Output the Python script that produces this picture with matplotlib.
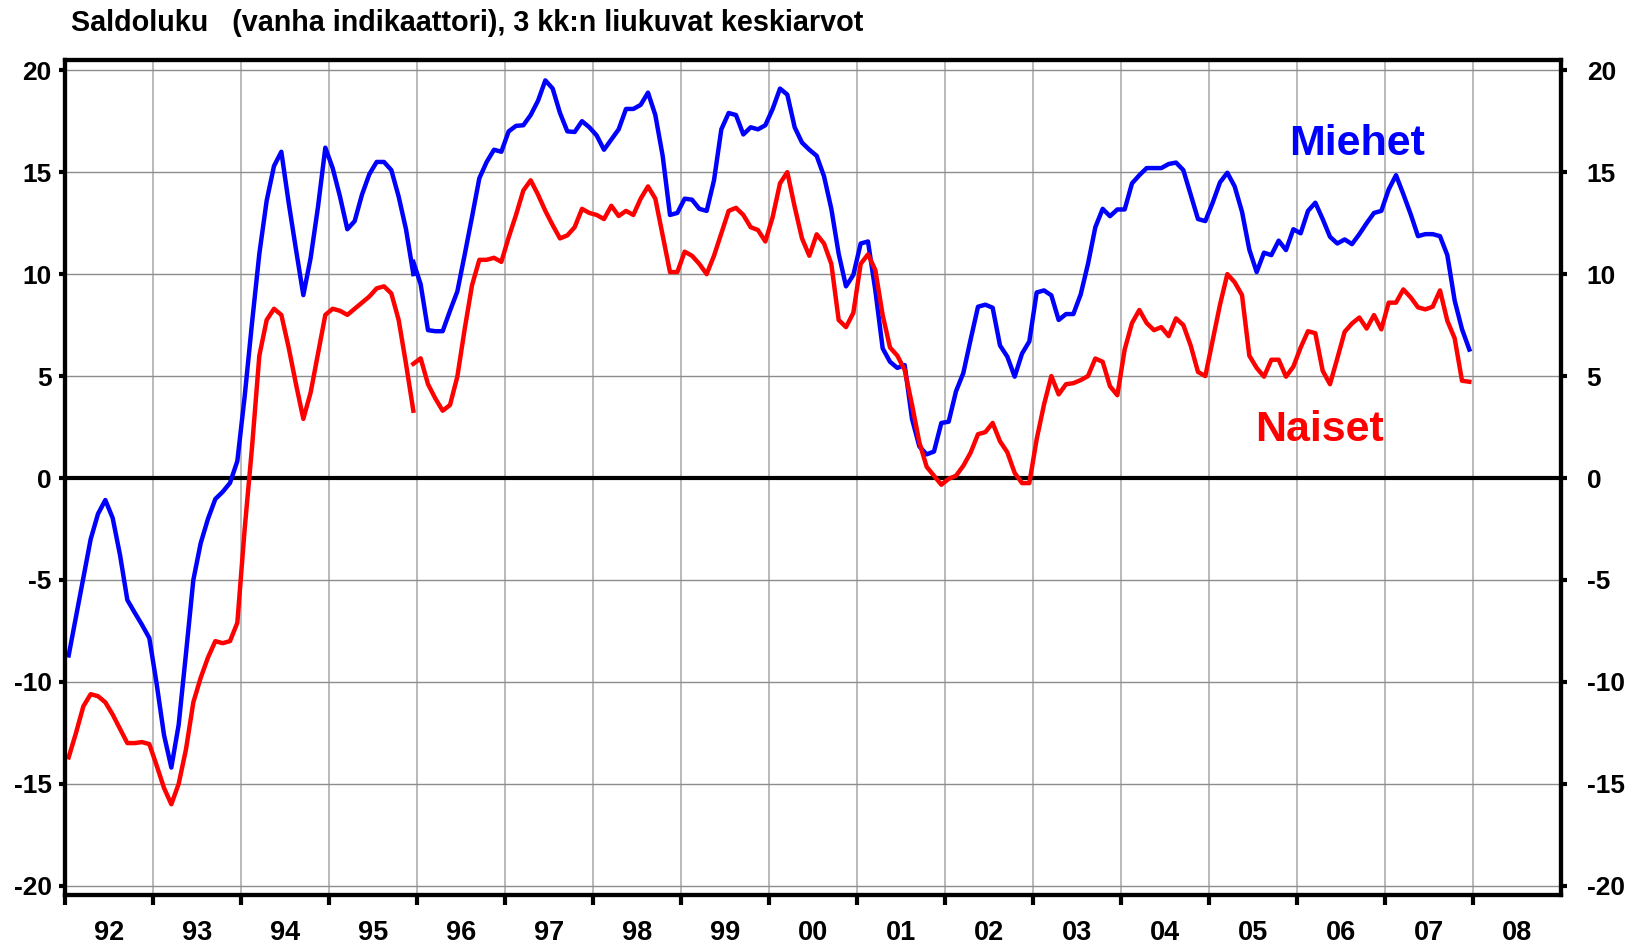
import numpy as np
import matplotlib
matplotlib.use("Agg")
import matplotlib.pyplot as plt
from matplotlib.ticker import FixedLocator, NullFormatter, FixedFormatter

plt.rcParams['font.family'] = ['Liberation Sans', 'DejaVu Sans']
plt.rcParams['axes.unicode_minus'] = False

# ---- data (monthly 3-month moving averages, first value = Jan 1992) ----
start_year = 1992
# old series Jan 1992 - Dec 1995
miehet_old = [-8.7, -6.8, -4.9, -3.0, -1.76, -1.08, -1.96, -3.77, -5.98, -6.6, -7.2, -7.85,
              -10.1, -12.6, -14.2, -12.1, -8.6, -5.0, -3.2, -2.0, -1.03, -0.68, -0.24, 0.83,
              4.0, 7.6, 11.0, 13.6, 15.3, 16.0, 13.5, 11.2, 8.97, 10.8, 13.3, 16.2,
              15.2, 13.8, 12.2, 12.6, 13.9, 14.9, 15.5, 15.5, 15.1, 13.8, 12.2, 10.0]
naiset_old = [-13.7, -12.5, -11.2, -10.6, -10.7, -11.0, -11.6, -12.3, -13.0, -13.0, -12.95, -13.05,
              -14.1, -15.2, -16.0, -15.0, -13.3, -11.0, -9.8, -8.8, -8.0, -8.1, -8.0, -7.1,
              -2.5, 1.5, 6.0, 7.75, 8.3, 8.0, 6.4, 4.6, 2.9, 4.2, 6.1, 8.0,
              8.3, 8.2, 8.0, 8.3, 8.6, 8.9, 9.3, 9.4, 9.05, 7.75, 5.6, 3.3]
# new series Dec 1995 - Dec 2007
new_start_index = 47
miehet_new = [10.6,
              9.5, 7.25, 7.2, 7.2, 8.2, 9.15, 10.95, 12.8, 14.7, 15.5, 16.1, 16.0,
              17.0, 17.27, 17.3, 17.8, 18.5, 19.5, 19.1, 17.9, 17.0, 16.97, 17.5, 17.2,
              16.8, 16.1, 16.6, 17.1, 18.1, 18.1, 18.3, 18.9, 17.8, 15.8, 12.9, 13.0,
              13.7, 13.65, 13.2, 13.1, 14.6, 17.1, 17.9, 17.8, 16.85, 17.2, 17.1, 17.3,
              18.1, 19.1, 18.8, 17.2, 16.45, 16.1, 15.8, 14.8, 13.2, 11.0, 9.4, 9.96,
              11.5, 11.6, 9.2, 6.36, 5.7, 5.4, 5.54, 2.9, 1.55, 1.16, 1.3, 2.7,
              2.76, 4.25, 5.15, 6.8, 8.4, 8.5, 8.35, 6.5, 5.95, 4.97, 6.1, 6.7,
              9.1, 9.2, 8.96, 7.75, 8.04, 8.04, 9.0, 10.5, 12.3, 13.2, 12.84, 13.17,
              13.17, 14.45, 14.85, 15.2, 15.2, 15.2, 15.4, 15.47, 15.1, 13.9, 12.7, 12.6,
              13.5, 14.5, 14.97, 14.3, 13.06, 11.2, 10.1, 11.05, 10.93, 11.64, 11.18, 12.2,
              12.0, 13.1, 13.5, 12.7, 11.83, 11.5, 11.7, 11.47, 11.96, 12.5, 13.0, 13.1,
              14.15, 14.85, 13.92, 12.94, 11.86, 11.96, 11.96, 11.86, 10.93, 8.7, 7.3, 6.3]
naiset_new = [5.6,
              5.87, 4.6, 3.9, 3.3, 3.58, 4.97, 7.3, 9.45, 10.7, 10.7, 10.8, 10.6,
              11.8, 12.9, 14.1, 14.6, 13.9, 13.1, 12.4, 11.75, 11.9, 12.3, 13.2, 13.0,
              12.9, 12.7, 13.35, 12.85, 13.1, 12.9, 13.7, 14.3, 13.7, 11.9, 10.1, 10.1,
              11.1, 10.9, 10.5, 10.0, 10.9, 12.0, 13.1, 13.25, 12.9, 12.3, 12.16, 11.6,
              12.8, 14.45, 15.0, 13.3, 11.75, 10.9, 11.95, 11.5, 10.5, 7.75, 7.4, 8.1,
              10.5, 10.97, 10.2, 7.99, 6.4, 6.0, 5.3, 3.6, 1.75, 0.55, 0.11, -0.33,
              -0.04, 0.11, 0.6, 1.25, 2.15, 2.25, 2.7, 1.8, 1.26, 0.25, -0.25, -0.25,
              1.9, 3.6, 5.0, 4.1, 4.6, 4.65, 4.8, 5.0, 5.86, 5.7, 4.5, 4.06,
              6.3, 7.6, 8.24, 7.6, 7.25, 7.4, 6.96, 7.83, 7.5, 6.5, 5.2, 5.0,
              6.76, 8.5, 10.0, 9.6, 8.97, 6.0, 5.4, 4.97, 5.8, 5.8, 4.97, 5.46,
              6.4, 7.2, 7.1, 5.26, 4.6, 5.87, 7.17, 7.58, 7.87, 7.33, 7.99, 7.29,
              8.6, 8.6, 9.25, 8.86, 8.37, 8.27, 8.4, 9.2, 7.71, 6.85, 4.77, 4.72]

year_labels = ['92', '93', '94', '95', '96', '97', '98', '99', '00',
               '01', '02', '03', '04', '05', '06', '07', '08']
y_ticks = [20, 15, 10, 5, 0, -5, -10, -15, -20]
title = "Saldoluku   (vanha indikaattori), 3 kk:n liukuvat keskiarvot"

BLUE = '#0000ff'
RED = '#ff0000'

def month_x(first_index, n):
    idx = np.arange(first_index, first_index + n)
    return start_year + (idx + 0.5) / 12.0

fig = plt.figure(figsize=(16.32, 9.47), dpi=100)
ax = fig.add_axes([65/1632, 1-895/947, (1561-65)/1632, (895-60)/947])

n_years = len(year_labels)
ylim = (-20.45, 20.5)
ax.set_xlim(start_year, start_year + n_years)
ax.set_ylim(*ylim)

# grid
for yr in range(start_year + 1, start_year + n_years):
    ax.axvline(yr, color='#b4b4b4', lw=1.3, zorder=1)
for yv in y_ticks:
    if yv != 0:
        ax.axhline(yv, color='#8c8c8c', lw=1.0, zorder=1)
ax.axhline(0, color='black', lw=3.0, zorder=2)

lw = 3.2
ax.plot(month_x(0, len(miehet_old)), miehet_old, color=BLUE, lw=lw, zorder=4)
ax.plot(month_x(new_start_index, len(miehet_new)), miehet_new, color=BLUE, lw=lw, zorder=4)
ax.plot(month_x(0, len(naiset_old)), naiset_old, color=RED, lw=lw, zorder=5)
ax.plot(month_x(new_start_index, len(naiset_new)), naiset_new, color=RED, lw=lw, zorder=5)

# x ticks: boundaries (major, unlabeled), centers (minor, labeled)
ax.xaxis.set_major_locator(FixedLocator(np.arange(start_year, start_year + n_years)))
ax.xaxis.set_major_formatter(NullFormatter())
ax.xaxis.set_minor_locator(FixedLocator(np.arange(start_year, start_year + n_years) + 0.5))
ax.xaxis.set_minor_formatter(FixedFormatter(year_labels))
ax.tick_params(axis='x', which='major', direction='out', length=7.5, width=3.0, bottom=True, top=False)
ax.tick_params(axis='x', which='minor', length=0, pad=18, labelsize=19.5)

ax.set_yticks(y_ticks)
ax.set_yticklabels([str(v) for v in y_ticks])
ax.tick_params(axis='y', which='major', direction='out', length=4.5, width=3.0,
               left=True, right=False, labelleft=True, labelright=False, pad=5, labelsize=19)

ax2 = ax.twinx()
ax2.set_position(ax.get_position())
ax2.set_ylim(*ylim)
ax2.set_yticks(y_ticks)
ax2.set_yticklabels([str(v) for v in y_ticks])
ax2.tick_params(axis='y', which='major', direction='out', length=4.5, width=3.0,
                right=True, left=False, labelright=True, labelleft=False, pad=14, labelsize=19)
ax2.patch.set_visible(False)

for lab in ax.get_xticklabels(minor=True) + ax.get_yticklabels() + ax2.get_yticklabels():
    lab.set_fontweight('bold')

for a in (ax, ax2):
    for sp in a.spines.values():
        sp.set_linewidth(3.0)

fig.text(71/1632, 1-23/947, title, fontsize=20.7, fontweight='bold', ha='left', va='center')

ax.text(2006.68, 16.4, 'Miehet', color=BLUE, fontsize=31, fontweight='bold', ha='center', va='center', zorder=6)
ax.text(2006.25, 2.35, 'Naiset', color=RED, fontsize=31, fontweight='bold', ha='center', va='center', zorder=6)

fig.savefig('out.png', dpi=100)
